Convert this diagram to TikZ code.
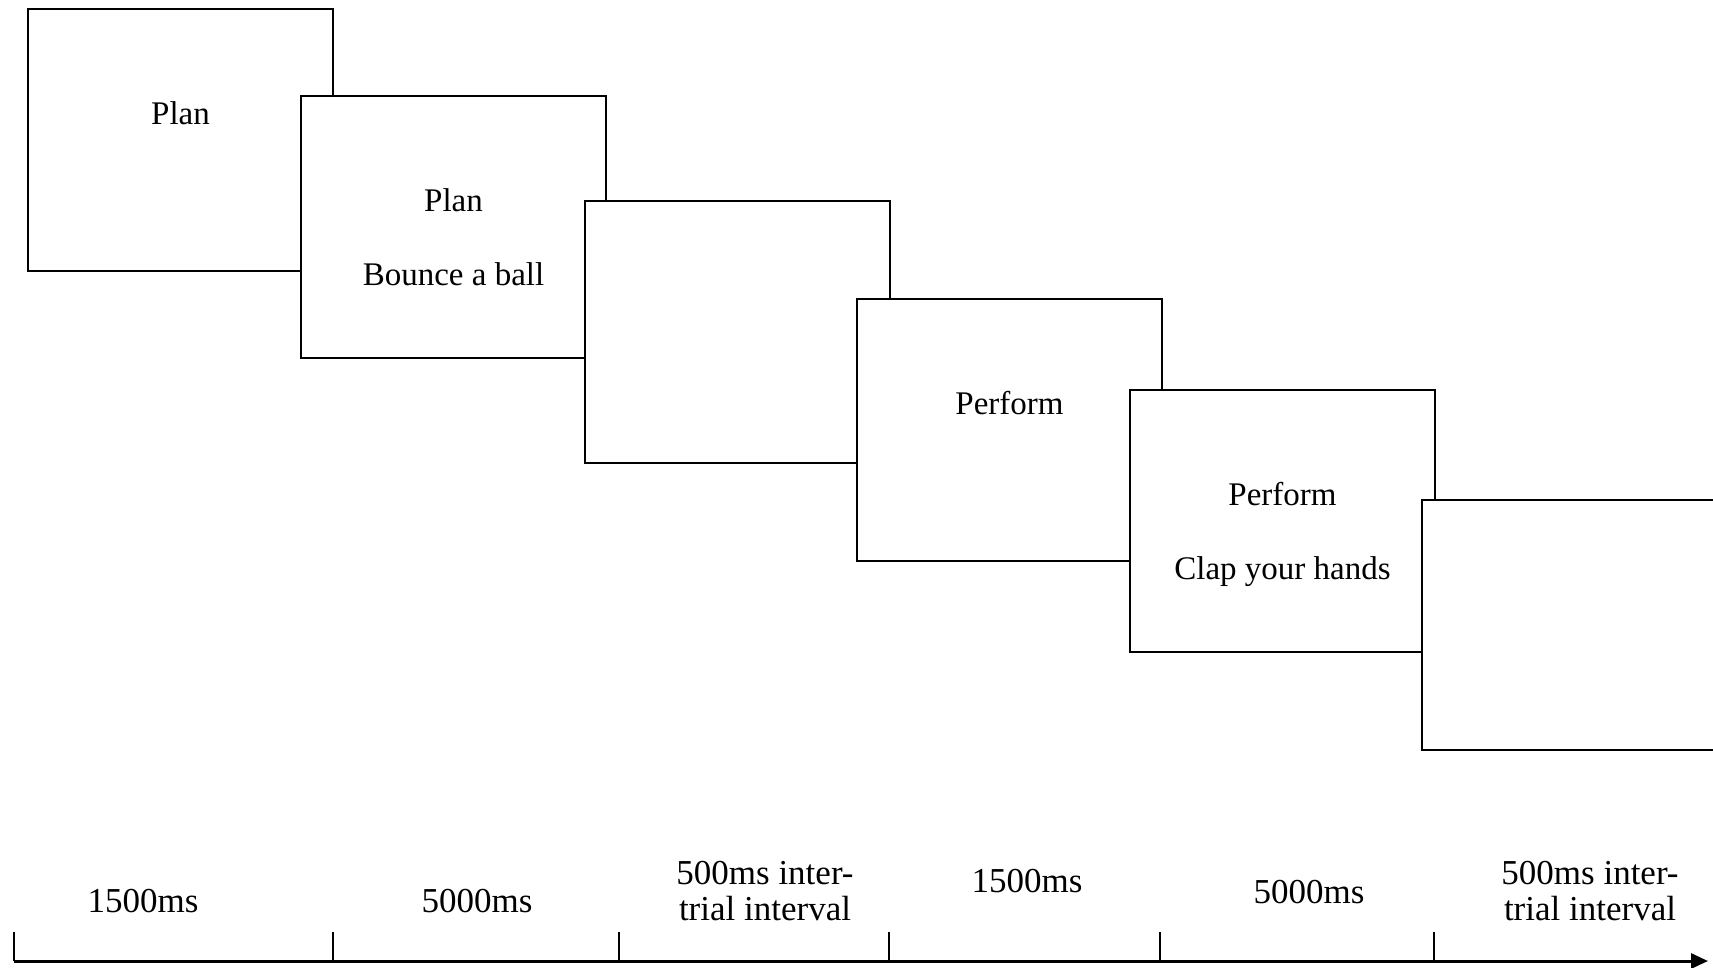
\documentclass[tikz,border=0pt]{standalone}
\usepackage{fontspec}
\setmainfont{Liberation Serif}
\usetikzlibrary{positioning, arrows.meta}

\begin{document}
\begin{tikzpicture}[x=1pt, y=-1pt, every node/.style={align=center}]
\tikzset{
  screen/.style={
    rectangle, draw=black, line width=2pt, fill=white, anchor=north west,
    minimum width=305pt, minimum height=262pt, inner sep=0pt
  },
  cue/.style={font=\fontsize{33}{35}\selectfont, inner sep=0pt, anchor=base},
  timing/.style={font=\fontsize{35}{36}\selectfont, inner sep=0pt},
  tickline/.style={line width=1.5pt},
  axis/.style={line width=3pt, -{Triangle[length=17pt, width=15pt]}}
}
\useasboundingbox (0,0) rectangle (1713,967);

% screens, each one laid over the one before
\node (plan) [screen] at (27,8) {};
\node (plantxt) [cue] at ([yshift=-116pt]plan.north) {Plan};

\node (planact) [screen] at (300,95) {};
\node (planacttxt) [cue] at ([yshift=-116pt]planact.north) {Plan};
\node (bounce) [cue] at ([yshift=-190pt]planact.north) {Bounce a ball};

\node (itione) [screen] at (584,200) {};

\node (perform) [screen] at (856,298) {};
\node (performtxt) [cue] at ([yshift=-116pt]perform.north) {Perform};

\node (performact) [screen] at (1129,389) {};
\node (performacttxt) [cue] at ([yshift=-116pt]performact.north) {Perform};
\node (clap) [cue] at ([yshift=-190pt]performact.north) {Clap your hands};

\node (ititwo) [screen, minimum height=250pt] at (1421,499) {};

% time line
\coordinate (t0) at (14,961);
\coordinate (t1) at (333,961);
\coordinate (t2) at (619,961);
\coordinate (t3) at (889,961);
\coordinate (t4) at (1160,961);
\coordinate (t5) at (1434,961);
\coordinate (tend) at (1708,961);

\draw [axis] (t0) -- (tend);
\draw [tickline] (t0) -- ++(0,-29);
\draw [tickline] (t1) -- ++(0,-29);
\draw [tickline] (t2) -- ++(0,-29);
\draw [tickline] (t3) -- ++(0,-29);
\draw [tickline] (t4) -- ++(0,-29);
\draw [tickline] (t5) -- ++(0,-29);

\node (dplan) [timing, anchor=base] at (143,912) {1500ms};
\node (dplanact) [timing, anchor=base] at (477,912) {5000ms};
\node (ditione) [timing] at (765,891) {500ms inter-\\trial interval};
\node (dperform) [timing, anchor=base] at (1027,892) {1500ms};
\node (dperformact) [timing, anchor=base] at (1309,903) {5000ms};
\node (dititwo) [timing] at (1590,891) {500ms inter-\\trial interval};
\end{tikzpicture}
\end{document}
